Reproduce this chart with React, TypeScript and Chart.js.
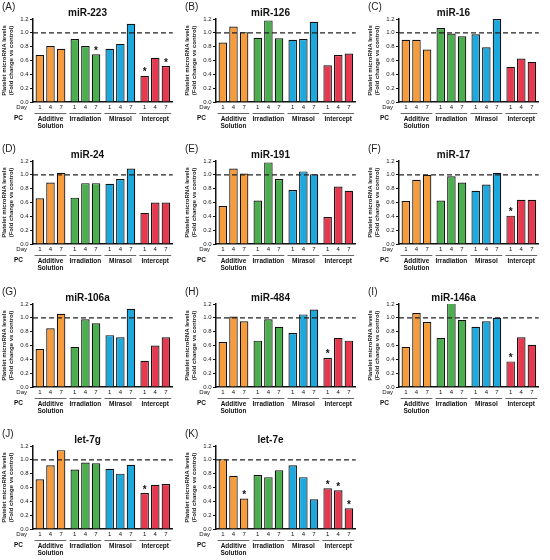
import React, { useEffect, useRef } from 'react';
import { Chart, registerables } from 'chart.js';

Chart.register(...registerables);

const FONT = '"Liberation Sans", Arial, Helvetica, sans-serif';

// Categories
const groupLabels: (string | string[])[] = [['Additive', 'Solution'], 'Irradiation', 'Mirasol', 'Intercept'];
const dayLabels = ['1', '4', '7'];
const groupColors = ['#F69C3D', '#4CAF4F', '#1EA9DE', '#E6394F'];
const yTickValues = [0, 0.2, 0.4, 0.6, 0.8, 1.0, 1.2];
const yTitle = ['Platelet microRNA levels', '(Fold change vs control)'];

// Values: [AS d1, d4, d7, Irr d1, d4, d7, Mir d1, d4, d7, Int d1, d4, d7]
const miR223 = [0.68, 0.81, 0.77, 0.91, 0.81, 0.69, 0.77, 0.84, 1.13, 0.38, 0.64, 0.52];
const miR223Sig = [5, 9, 11];
const miR126 = [0.86, 1.09, 1.01, 0.93, 1.18, 0.92, 0.90, 0.91, 1.16, 0.53, 0.68, 0.70];
const miR126Sig: number[] = [];
const miR16 = [0.90, 0.90, 0.76, 1.07, 0.99, 0.95, 0.98, 0.79, 1.20, 0.51, 0.63, 0.58];
const miR16Sig: number[] = [];
const miR24 = [0.66, 0.89, 1.03, 0.67, 0.88, 0.88, 0.87, 0.94, 1.09, 0.45, 0.60, 0.60];
const miR24Sig: number[] = [];
const miR191 = [0.55, 1.09, 1.02, 0.63, 1.18, 0.94, 0.78, 1.05, 1.01, 0.39, 0.83, 0.77];
const miR191Sig: number[] = [];
const miR17 = [0.62, 0.93, 1.00, 0.63, 0.98, 0.89, 0.77, 0.86, 1.03, 0.41, 0.64, 0.64];
const miR17Sig = [9];
const miR106a = [0.55, 0.85, 1.06, 0.58, 0.98, 0.92, 0.75, 0.72, 1.13, 0.38, 0.60, 0.72];
const miR106aSig: number[] = [];
const miR484 = [0.65, 1.02, 0.95, 0.67, 0.98, 0.87, 0.78, 1.05, 1.12, 0.42, 0.71, 0.67];
const miR484Sig = [9];
const miR146a = [0.58, 1.07, 0.94, 0.71, 1.22, 0.97, 0.87, 0.95, 1.00, 0.37, 0.72, 0.61];
const miR146aSig = [9];
const let7g = [0.72, 0.92, 1.14, 0.86, 0.96, 0.95, 0.87, 0.80, 0.93, 0.52, 0.64, 0.65];
const let7gSig = [9];
const let7e = [1.01, 0.77, 0.44, 0.78, 0.75, 0.85, 0.92, 0.75, 0.43, 0.59, 0.56, 0.30];
const let7eSig = [2, 9, 10, 11];

const panels = [
  { letter: 'A', name: 'miR-223', values: miR223, sig: miR223Sig },
  { letter: 'B', name: 'miR-126', values: miR126, sig: miR126Sig },
  { letter: 'C', name: 'miR-16', values: miR16, sig: miR16Sig },
  { letter: 'D', name: 'miR-24', values: miR24, sig: miR24Sig },
  { letter: 'E', name: 'miR-191', values: miR191, sig: miR191Sig },
  { letter: 'F', name: 'miR-17', values: miR17, sig: miR17Sig },
  { letter: 'G', name: 'miR-106a', values: miR106a, sig: miR106aSig },
  { letter: 'H', name: 'miR-484', values: miR484, sig: miR484Sig },
  { letter: 'I', name: 'miR-146a', values: miR146a, sig: miR146aSig },
  { letter: 'J', name: 'let-7g', values: let7g, sig: let7gSig },
  { letter: 'K', name: 'let-7e', values: let7e, sig: let7eSig },
];

const COL_X = [0, 183, 366];
const ROW_Y = [0, 142, 285, 427];
const PW = 183;
const PH = 140;

function Panel({ name, values, sig }: { name: string; values: number[]; sig: number[] }) {
  const ref = useRef<HTMLCanvasElement>(null);
  useEffect(() => {
    if (!ref.current) return;
    const datasets = dayLabels.map((d, di) => ({
      label: 'Day ' + d,
      data: groupLabels.map((_, gi) => values[gi * 3 + di]),
      backgroundColor: groupColors,
      borderColor: '#111',
      borderWidth: 1.2,
      categoryPercentage: 0.913,
      barPercentage: 0.8,
    }));
    const deco = {
      id: 'deco',
      afterDatasetsDraw(chart: any) {
        const { ctx, chartArea, scales } = chart;
        const y1 = scales.y.getPixelForValue(1);
        ctx.save();
        ctx.strokeStyle = '#222';
        ctx.lineWidth = 1.3;
        ctx.setLineDash([5, 3]);
        ctx.beginPath();
        ctx.moveTo(chartArea.left, y1);
        ctx.lineTo(chartArea.right, y1);
        ctx.stroke();
        ctx.setLineDash([]);

        ctx.fillStyle = '#111';
        ctx.textAlign = 'center';
        ctx.font = 'bold 10px ' + FONT;
        ctx.textBaseline = 'alphabetic';
        sig.forEach((i) => {
          const g = Math.floor(i / 3);
          const d = i % 3;
          const bar = chart.getDatasetMeta(d).data[g];
          ctx.fillText('*', bar.x, bar.y - 0.5);
        });

        const b = chartArea.bottom;
        ctx.font = '6px ' + FONT;
        ctx.textBaseline = 'middle';
        for (let g = 0; g < groupLabels.length; g++) {
          for (let d = 0; d < dayLabels.length; d++) {
            const bar = chart.getDatasetMeta(d).data[g];
            ctx.fillText(dayLabels[d], bar.x, b + 5.5);
          }
          const first = chart.getDatasetMeta(0).data[g];
          const last = chart.getDatasetMeta(2).data[g];
          ctx.strokeStyle = '#555';
          ctx.lineWidth = 0.9;
          ctx.beginPath();
          ctx.moveTo(first.x - first.width / 2 - 1, b + 11.5);
          ctx.lineTo(last.x + last.width / 2 + 1, b + 11.5);
          ctx.stroke();
        }
        ctx.textAlign = 'right';
        ctx.fillText('Day', chartArea.left - 6, b + 5.5);
        ctx.font = 'bold 6.5px ' + FONT;
        ctx.fillText('PC', chartArea.left - 10, b + 16.5);
        ctx.restore();
      },
    };
    const chart = new Chart(ref.current, {
      type: 'bar',
      data: { labels: groupLabels as any, datasets },
      options: {
        animation: false,
        responsive: false,
        maintainAspectRatio: false,
        layout: { padding: { left: 0, right: 8, top: 0, bottom: 0 } },
        plugins: {
          legend: { display: false },
          tooltip: { enabled: false },
          title: {
            display: true,
            text: name,
            color: '#111',
            font: { family: FONT, size: 10, weight: 'bold', lineHeight: 1 },
            padding: { top: 8, bottom: 1 },
          },
        },
        scales: {
          x: {
            type: 'category',
            offset: true,
            grid: { display: false, drawTicks: false },
            border: { display: true, color: '#111', width: 1.5 },
            ticks: {
              padding: 13,
              color: '#111',
              maxRotation: 0,
              autoSkip: false,
              font: { family: FONT, size: 6.5, weight: 'bold', lineHeight: 1.2 },
            },
            afterFit: (s: any) => {
              s.height = 38;
            },
          },
          y: {
            min: 0,
            max: 1.2,
            afterBuildTicks: (s: any) => {
              s.ticks = yTickValues.map((v) => ({ value: v }));
            },
            grid: { display: true, drawOnChartArea: false, drawTicks: true, tickLength: 3, color: '#111', lineWidth: 1 },
            border: { display: true, color: '#111', width: 1.5 },
            ticks: {
              padding: 1.5,
              color: '#222',
              font: { family: FONT, size: 6 },
              callback: (v: any) => Number(v).toFixed(1),
            },
            title: {
              display: true,
              text: yTitle,
              color: '#222',
              padding: { top: 0.5, bottom: 0 },
              font: { family: FONT, size: 6, weight: 'bold', lineHeight: 1.2 },
            },
            afterFit: (s: any) => {
              s.width = 33;
            },
          },
        },
      },
      plugins: [deco],
    });
    return () => chart.destroy();
  }, [name, values, sig]);
  return <canvas ref={ref} width={PW} height={PH} style={{ display: 'block', width: PW, height: PH }} />;
}

export default function App() {
  return (
    <div
      style={{
        position: 'fixed',
        left: 0,
        top: 0,
        width: 550,
        height: 560,
        background: '#fff',
        overflow: 'hidden',
        fontFamily: FONT,
      }}
    >
      {panels.map((p, i) => {
        const x = COL_X[i % 3];
        const y = ROW_Y[Math.floor(i / 3)];
        return (
          <div key={p.letter} style={{ position: 'absolute', left: x, top: y, width: PW, height: PH }}>
            <Panel name={p.name} values={p.values} sig={p.sig} />
            <div
              style={{
                position: 'absolute',
                left: 2,
                top: 1,
                fontSize: 10,
                lineHeight: '12px',
                color: '#222',
              }}
            >
              ({p.letter})
            </div>
          </div>
        );
      })}
    </div>
  );
}
